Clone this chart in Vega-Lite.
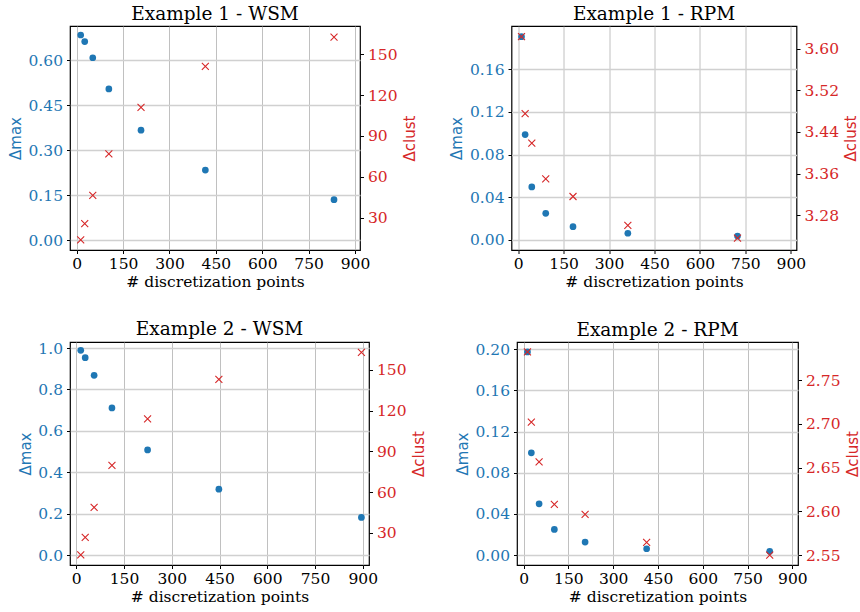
{
  "$schema": "https://vega.github.io/schema/vega-lite/v6.json",
  "padding": {"left": 7, "top": 3, "right": 0, "bottom": 3},
  "background": "white",
  "config": {
    "font": "DejaVu Serif",
    "view": {"stroke": "#000", "strokeWidth": 1.2},
    "title": {"font": "DejaVu Serif", "fontSize": 18.5, "fontWeight": "normal", "color": "#000", "offset": 3},
    "axis": {"labelFont": "DejaVu Serif", "labelFontSize": 15.5, "tickSize": 3.5, "tickColor": "#000", "tickWidth": 1, "domain": false, "titleFontWeight": "normal", "labelPadding": 4, "labelFlush": false, "labelOverlap": false},
    "axisX": {"gridColor": "#b0b0b0", "gridWidth": 0.8, "gridOpacity": 1, "labelColor": "#000", "titleFont": "DejaVu Serif", "titleFontSize": 15.5, "titleColor": "#000", "titlePadding": 2, "labelPadding": 3},
    "axisLeft": {"labelColor": "#1f77b4", "titleColor": "#1f77b4", "gridColor": "#d0d0d0", "gridWidth": 1.3, "gridOpacity": 1, "titleFont": "DejaVu Sans", "titleFontSize": 15, "titlePadding": 4.5},
    "axisRight": {"labelColor": "#d62728", "titleColor": "#d62728", "grid": false, "titleFont": "DejaVu Sans", "titleFontSize": 15, "titlePadding": 5, "titleAngle": 270, "titleBaseline": "top"}
  },
  "spacing": 27,
  "vconcat": [
    {
      "spacing": 30.5,
      "hconcat": [
        {
          "title": "Example 1 - WSM",
          "width": 290, "height": 224,
          "data": {"values": [
            {"x": 13, "dmax": 0.685, "dclust": 13.6},
            {"x": 26, "dmax": 0.663, "dclust": 25.6},
            {"x": 52, "dmax": 0.609, "dclust": 46.4},
            {"x": 104, "dmax": 0.505, "dclust": 76.8},
            {"x": 208, "dmax": 0.367, "dclust": 111.0},
            {"x": 416, "dmax": 0.234, "dclust": 141.2},
            {"x": 832, "dmax": 0.135, "dclust": 162.7}
          ]},
          "layer": [
            {
              "mark": {"type": "point", "shape": "circle", "filled": true, "size": 45, "color": "#1f77b4", "opacity": 1},
              "encoding": {
                "x": {"field": "x", "type": "quantitative", "scale": {"domain": [-21.6, 916], "nice": false, "zero": false}, "axis": {"values": [0, 150, 300, 450, 600, 750, 900], "title": "# discretization points"}},
                "y": {"field": "dmax", "type": "quantitative", "scale": {"domain": [-0.033, 0.715], "nice": false, "zero": false}, "axis": {"orient": "left", "values": [0, 0.15, 0.3, 0.45, 0.6], "format": ".2f", "title": "Δmax"}}
              }
            },
            {
              "mark": {"type": "point", "shape": "M-1,-1L1,1M-1,1L1,-1", "filled": false, "size": 49, "color": "#d62728", "strokeWidth": 1.1, "opacity": 1},
              "encoding": {
                "x": {"field": "x", "type": "quantitative", "scale": {"domain": [-21.6, 916], "nice": false, "zero": false}, "axis": {"values": [0, 150, 300, 450, 600, 750, 900], "title": "# discretization points"}},
                "y": {"field": "dclust", "type": "quantitative", "scale": {"domain": [6.2, 170.8], "nice": false, "zero": false}, "axis": {"orient": "right", "values": [30, 60, 90, 120, 150], "format": "d", "title": "Δclust"}}
              }
            }
          ],
          "resolve": {"scale": {"y": "independent"}}
        },
        {
          "title": "Example 1 - RPM",
          "width": 285, "height": 224,
          "data": {"values": [
            {"x": 11, "dmax": 0.1906, "dclust": 3.6229},
            {"x": 23, "dmax": 0.0988, "dclust": 3.475},
            {"x": 45, "dmax": 0.0497, "dclust": 3.4185},
            {"x": 91, "dmax": 0.025, "dclust": 3.35},
            {"x": 181, "dmax": 0.0125, "dclust": 3.316},
            {"x": 362, "dmax": 0.0063, "dclust": 3.2606},
            {"x": 724, "dmax": 0.0037, "dclust": 3.2359}
          ]},
          "layer": [
            {
              "mark": {"type": "point", "shape": "circle", "filled": true, "size": 45, "color": "#1f77b4", "opacity": 1},
              "encoding": {
                "x": {"field": "x", "type": "quantitative", "scale": {"domain": [-22, 918.7], "nice": false, "zero": false}, "axis": {"values": [0, 150, 300, 450, 600, 750, 900], "title": "# discretization points"}},
                "y": {"field": "dmax", "type": "quantitative", "scale": {"domain": [-0.0094, 0.2006], "nice": false, "zero": false}, "axis": {"orient": "left", "values": [0, 0.04, 0.08, 0.12, 0.16], "format": ".2f", "title": "Δmax"}}
              }
            },
            {
              "mark": {"type": "point", "shape": "M-1,-1L1,1M-1,1L1,-1", "filled": false, "size": 49, "color": "#d62728", "strokeWidth": 1.1, "opacity": 1},
              "encoding": {
                "x": {"field": "x", "type": "quantitative", "scale": {"domain": [-22, 918.7], "nice": false, "zero": false}, "axis": {"values": [0, 150, 300, 450, 600, 750, 900], "title": "# discretization points"}},
                "y": {"field": "dclust", "type": "quantitative", "scale": {"domain": [3.2133, 3.6432], "nice": false, "zero": false}, "axis": {"orient": "right", "values": [3.28, 3.36, 3.44, 3.52, 3.6], "format": ".2f", "title": "Δclust"}}
              }
            }
          ],
          "resolve": {"scale": {"y": "independent"}}
        }
      ]
    },
    {
      "spacing": 27,
      "hconcat": [
        {
          "title": "Example 2 - WSM",
          "width": 299, "height": 223,
          "data": {"values": [
            {"x": 14, "dmax": 0.9887, "dclust": 13.6},
            {"x": 28, "dmax": 0.9534, "dclust": 26.6},
            {"x": 56, "dmax": 0.868, "dclust": 48.7},
            {"x": 112, "dmax": 0.7106, "dclust": 79.6},
            {"x": 224, "dmax": 0.508, "dclust": 114.0},
            {"x": 448, "dmax": 0.318, "dclust": 143.0},
            {"x": 896, "dmax": 0.1817, "dclust": 163.0}
          ]},
          "layer": [
            {
              "mark": {"type": "point", "shape": "circle", "filled": true, "size": 45, "color": "#1f77b4", "opacity": 1},
              "encoding": {
                "x": {"field": "x", "type": "quantitative", "scale": {"domain": [-19.8, 919.8], "nice": false, "zero": false}, "axis": {"values": [0, 150, 300, 450, 600, 750, 900], "title": "# discretization points"}},
                "y": {"field": "dmax", "type": "quantitative", "scale": {"domain": [-0.048, 1.029], "nice": false, "zero": false}, "axis": {"orient": "left", "values": [0, 0.2, 0.4, 0.6, 0.8, 1.0], "format": ".1f", "title": "Δmax"}}
              }
            },
            {
              "mark": {"type": "point", "shape": "M-1,-1L1,1M-1,1L1,-1", "filled": false, "size": 49, "color": "#d62728", "strokeWidth": 1.1, "opacity": 1},
              "encoding": {
                "x": {"field": "x", "type": "quantitative", "scale": {"domain": [-19.8, 919.8], "nice": false, "zero": false}, "axis": {"values": [0, 150, 300, 450, 600, 750, 900], "title": "# discretization points"}},
                "y": {"field": "dclust", "type": "quantitative", "scale": {"domain": [6.2, 170.6], "nice": false, "zero": false}, "axis": {"orient": "right", "values": [30, 60, 90, 120, 150], "format": "d", "title": "Δclust"}}
              }
            }
          ],
          "resolve": {"scale": {"y": "independent"}}
        },
        {
          "title": "Example 2 - RPM",
          "width": 281, "height": 223,
          "data": {"values": [
            {"x": 13, "dmax": 0.1974, "dclust": 2.7824},
            {"x": 26, "dmax": 0.0994, "dclust": 2.702},
            {"x": 52, "dmax": 0.0498, "dclust": 2.6567},
            {"x": 103, "dmax": 0.0249, "dclust": 2.6079},
            {"x": 206, "dmax": 0.0126, "dclust": 2.5965},
            {"x": 412, "dmax": 0.0061, "dclust": 2.5645},
            {"x": 824, "dmax": 0.0036, "dclust": 2.55}
          ]},
          "layer": [
            {
              "mark": {"type": "point", "shape": "circle", "filled": true, "size": 45, "color": "#1f77b4", "opacity": 1},
              "encoding": {
                "x": {"field": "x", "type": "quantitative", "scale": {"domain": [-22, 918.7], "nice": false, "zero": false}, "axis": {"values": [0, 150, 300, 450, 600, 750, 900], "title": "# discretization points"}},
                "y": {"field": "dmax", "type": "quantitative", "scale": {"domain": [-0.0097, 0.2071], "nice": false, "zero": false}, "axis": {"orient": "left", "values": [0, 0.04, 0.08, 0.12, 0.16, 0.2], "format": ".2f", "title": "Δmax"}}
              }
            },
            {
              "mark": {"type": "point", "shape": "M-1,-1L1,1M-1,1L1,-1", "filled": false, "size": 49, "color": "#d62728", "strokeWidth": 1.1, "opacity": 1},
              "encoding": {
                "x": {"field": "x", "type": "quantitative", "scale": {"domain": [-22, 918.7], "nice": false, "zero": false}, "axis": {"values": [0, 150, 300, 450, 600, 750, 900], "title": "# discretization points"}},
                "y": {"field": "dclust", "type": "quantitative", "scale": {"domain": [2.5386, 2.7938], "nice": false, "zero": false}, "axis": {"orient": "right", "values": [2.55, 2.6, 2.65, 2.7, 2.75], "format": ".2f", "title": "Δclust"}}
              }
            }
          ],
          "resolve": {"scale": {"y": "independent"}}
        }
      ]
    }
  ]
}
